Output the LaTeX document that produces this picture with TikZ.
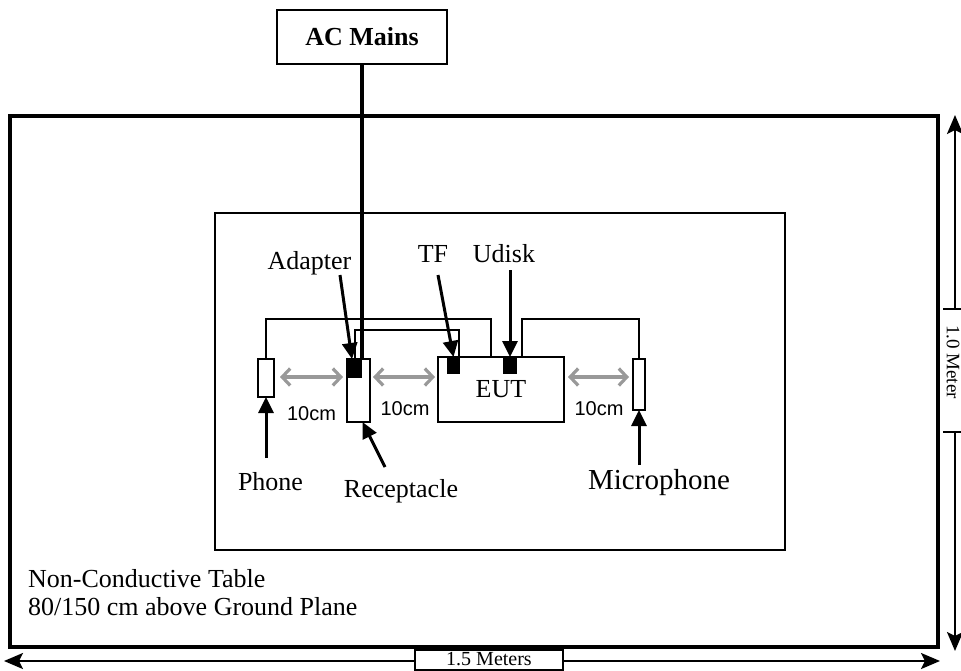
\documentclass[tikz,border=0pt]{standalone}
\usepackage{fontspec}
\setmainfont{Liberation Serif}
\newfontfamily\arialf{Liberation Sans}
\usetikzlibrary{arrows.meta}
\begin{document}
\begin{tikzpicture}[x=1pt,y=-1pt,
  blk/.style={draw, line width=2pt, inner sep=0pt, outer sep=0pt, anchor=north west},
  plug/.style={fill=black, inner sep=0pt, outer sep=0pt, anchor=north west},
  wire/.style={line width=2pt},
  mains/.style={line width=4pt},
  callout/.style={line width=3pt, -{Triangle[length=16pt,width=15pt]}},
  gap/.style={line width=3.2pt, draw=black!40, {Straight Barb[length=8pt,width=17pt]}-{Straight Barb[length=8pt,width=17pt]}},
  dim/.style={line width=2.4pt, {Stealth[length=19pt,width=16pt,inset=4pt]}-{Stealth[length=19pt,width=16pt,inset=4pt]}},
  lbl/.style={font=\fontsize{26}{30}\selectfont, inner sep=0pt, anchor=base},
  tencm/.style={font=\arialf\fontsize{20}{24}\selectfont, inner sep=0pt, anchor=base},
]
\useasboundingbox (0,0) rectangle (961,670);

% boxes
\node[blk, line width=1.5pt, minimum width=170pt, minimum height=54pt,
      font=\bfseries\fontsize{26}{30}\selectfont] (ac) at (277,10) {AC Mains};
\node[blk, line width=4pt, minimum width=928pt, minimum height=531pt] (table) at (10,116) {};
\node[blk, minimum width=570pt, minimum height=337pt] (inner) at (215,213) {};
\node[blk, minimum width=16pt, minimum height=38pt] (phone) at (258,359) {};
\node[blk, minimum width=23pt, minimum height=63pt] (recep) at (347,359) {};
\node[blk, minimum width=126pt, minimum height=65pt] (eut) at (438,357) {};
\node[blk, minimum width=12pt, minimum height=51pt] (mic) at (633,359) {};

% wires
\coordinate (w1) at (491,319);
\coordinate (w2) at (459,330);
\coordinate (w3) at (522,319);
\draw[wire] (phone.north) |- (w1) -- (w1 |- eut.north);
\draw[wire] (w3 |- eut.north) -- (w3) -| (mic.north);

% plugs
\node[plug, minimum width=15pt, minimum height=19pt] (adapter) at (347,359) {};
\node[plug, minimum width=13pt, minimum height=17pt] (tf) at (447,357) {};
\node[plug, minimum width=14pt, minimum height=17pt] (udisk) at (503,357) {};
\draw[wire] (adapter.north) |- (w2) -- (w2 |- tf.north);

% mains line
\draw[mains] (ac.south) -- (ac.south |- adapter.north);

% labels
\node[lbl] (adlbl) at (309.5,269) {Adapter};
\node[lbl] (tflbl) at (433,262) {TF};
\node[lbl] (udlbl) at (504,262) {Udisk};
\node[lbl] (eutlbl) at (501,397) {EUT};
\node[lbl] (phlbl) at (270.5,490) {Phone};
\node[lbl] (rclbl) at (401,497) {Receptacle};
\node[lbl, font=\fontsize{29}{34}\selectfont] (miclbl) at (659,489) {Microphone};
\node[lbl, anchor=base west] (nct) at (28,587) {Non-Conductive Table};
\node[lbl, anchor=base west] (gp) at (28,615) {80/150 cm above Ground Plane};
\node[tencm] (d1) at (311.5,420) {10cm};
\node[tencm] (d2) at (405,415) {10cm};
\node[tencm] (d3) at (599,415) {10cm};

% callout arrows
\coordinate (ada) at (340,275);
\coordinate (tfa) at (438,275);
\coordinate (uda) at (510,270);
\coordinate (pha) at (266,458);
\coordinate (rca) at (385,467);
\coordinate (mca) at (639,465);
\draw[callout] (ada) -- ([xshift=5pt]adapter.north west);
\draw[callout] (tfa) -- (tf.north);
\draw[callout] (uda) -- (udisk.north);
\draw[callout] (pha) -- (phone.south);
\draw[callout] (rca) -- ([xshift=4pt]recep.south);
\draw[callout] (mca) -- (mic.south);

% gray spacing arrows
\coordinate (gy) at (0,377);
\draw[gap, shorten <=6pt, shorten >=4pt] (gy -| phone.east) -- (gy -| recep.west);
\draw[gap, shorten <=3pt, shorten >=3pt] (gy -| recep.east) -- (gy -| eut.west);
\draw[gap, shorten <=4pt, shorten >=4pt] (gy -| eut.east) -- (gy -| mic.west);

% dimensions
\coordinate (hl) at (4,661);
\coordinate (hr) at (940,661);
\draw[dim] (hl) -- (hr);
\node[draw, fill=white, line width=1.5pt, minimum width=148pt, minimum height=20pt,
      anchor=north, inner sep=0pt] (hlab) at (489,649) {};
\node[inner sep=0pt, anchor=base, font=\fontsize{20}{24}\selectfont] (hlabt) at (489,665) {1.5 Meters};

\coordinate (vt) at (955,115);
\coordinate (vb) at (955,651);
\draw[dim] (vt) -- (vb);
\fill[white] (943,309) rectangle (967,432);
\draw[line width=1.5pt] (943,309) -- (967,309) (943,432) -- (967,432);
\node[rotate=-90, inner sep=0pt, font=\fontsize{19}{23}\selectfont] (vlab) at (953,362) {1.0 Meter};
\end{tikzpicture}
\end{document}
